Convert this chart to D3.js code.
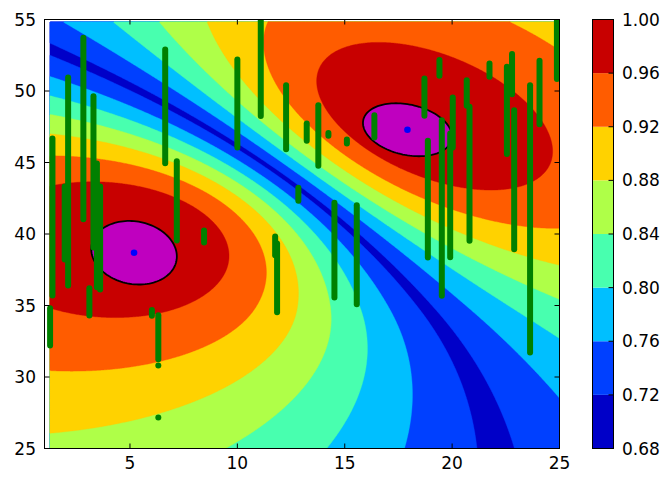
<!DOCTYPE html>
<html>
<head>
<meta charset="utf-8">
<script src="https://cdn.jsdelivr.net/npm/d3@7"></script>
<style>
body { margin: 0; background: #fff; }
text { font-family: "DejaVu Sans", sans-serif; font-size: 17px; fill: #000; }
</style>
</head>
<body>
<svg id="chart" width="667" height="480"></svg>
<script>
// contour levels, also the colorbar ticks
const levels = [0.68, 0.72, 0.76, 0.80, 0.84, 0.88, 0.92, 0.96, 1.00];
const levelLabels = ["0.68", "0.72", "0.76", "0.80", "0.84", "0.88", "0.92", "0.96", "1.00"];
const xTicks = [5, 10, 15, 20, 25];
const yTicks = [25, 30, 35, 40, 45, 50, 55];

// the two fitted components (blue dots + 1 sigma ellipses)
const compMeans = [[5.19, 38.69], [17.92, 47.29]];
const compCovs = [
    [[3.97, -0.518], [-0.518, 4.94]],
    [[4.29, -0.977], [-0.977, 3.43]]
];

const fieldCenters = [[5.19, 39.7], [18.4, 47.7]];
const fieldPrecisions = [
    [[0.714, 0.10], [0.10, 1.05]],
    [[0.77, 0.37], [0.37, 0.89]]
];
// extra fall-off below each peak (start distance, weight)
const fieldTailStart = [5, Infinity];
const fieldTailWeight = [0.3, 0];
const fieldFloor = 0.42;
const fieldX = [1.27, 25];
const fieldY = [25, 54.84];

// measurements with vertical errors
const obsX = [1.39, 1.28, 1.96, 2.12, 2.83, 3.30, 3.46, 3.61, 3.11, 6.64,
    7.18, 8.45, 10.00, 6.02, 6.32, 6.32, 6.32, 11.09, 12.27, 13.23,
    13.77, 14.24, 15.10, 12.84, 11.76, 11.85, 14.52, 15.56, 16.38, 18.71,
    18.87, 19.41, 19.52, 19.91, 20.03, 20.68, 20.81, 21.74, 22.55, 22.79,
    22.89, 23.63, 24.07, 24.88];
const obsY = [41.19, 33.50, 40.77, 43.67, 47.38, 44.35, 40.60, 39.72, 35.25, 48.93,
    42.32, 39.83, 49.13, 34.48, 32.78, 30.80, 27.17, 52.13, 48.17, 47.12,
    46.89, 46.97, 46.47, 42.78, 39.17, 36.93, 38.87, 38.55, 47.53, 49.57,
    42.44, 51.61, 41.82, 42.70, 47.80, 49.86, 44.21, 51.46, 48.64, 51.18,
    43.80, 41.06, 49.90, 53.67];
const obsErr = [5.49, 1.30, 2.55, 7.27, 6.35, 5.29, 4.33, 3.60, 0.95, 3.98,
    2.77, 0.42, 3.08, 0.20, 1.54, 0, 0, 3.87, 2.24, 0.60,
    2.12, 0.10, 0.14, 0.46, 0.66, 2.41, 3.31, 3.46, 0.78, 1.30,
    4.08, 0.55, 6.14, 4.33, 1.75, 0.89, 4.69, 0.46, 3.05, 1.40,
    4.86, 9.35, 2.22, 2.83];

const svg = d3.select('#chart');
const plot = {left: 44.5, right: 559.5, top: 19.5, bottom: 448.5};

const x = d3.scaleLinear().domain([1.02, 25]).range([plot.left, plot.right]);
const y = d3.scaleLinear().domain([25, 55]).range([plot.bottom, plot.top]);

// jet colormap
const jetR = d3.scaleLinear().domain([0, 0.35, 0.66, 0.89, 1]).range([0, 0, 1, 1, 0.5]);
const jetG = d3.scaleLinear().domain([0, 0.125, 0.375, 0.64, 0.91, 1]).range([0, 0, 1, 1, 0, 0]);
const jetB = d3.scaleLinear().domain([0, 0.11, 0.34, 0.65, 1]).range([0.5, 1, 1, 0, 0]);
const jet = t => d3.rgb(jetR(t) * 255, jetG(t) * 255, jetB(t) * 255).formatHex();
const nBands = levels.length - 1;
const bandColor = i => jet((i + 0.5) / nBands);

function field(px, py) {
    let inv = fieldCenters.map((c, k) => {
        let dx = px - c[0], dy = py - c[1], P = fieldPrecisions[k];
        let q = P[0][0] * dx * dx + 2 * P[0][1] * dx * dy + P[1][1] * dy * dy;
        let below = Math.max(0, -dy - fieldTailStart[k]);
        q += fieldTailWeight[k] * below * below;
        return 1 / Math.max(q, 1e-9);
    });
    return fieldFloor + (1 - fieldFloor) * d3.max(inv) / d3.sum(inv);
}

// grid for the filled contours
const nx = 480, ny = 400;
const values = new Float64Array(nx * ny);
for (let j = 0; j < ny; j++) {
    for (let i = 0; i < nx; i++) {
        let gx = fieldX[0] + (i + 0.5) / nx * (fieldX[1] - fieldX[0]);
        let gy = fieldY[1] - (j + 0.5) / ny * (fieldY[1] - fieldY[0]);
        values[j * nx + i] = field(gx, gy);
    }
}

const contours = d3.contours().size([nx, ny]).thresholds(levels.slice(0, -1))(values);

const gridProj = d3.geoTransform({
    point: function(gx, gy) {
        this.stream.point(
            x(fieldX[0] + gx / nx * (fieldX[1] - fieldX[0])),
            y(fieldY[1] - gy / ny * (fieldY[1] - fieldY[0])));
    }
});
const path = d3.geoPath(gridProj);

svg.append('defs').append('clipPath').attr('id', 'clip')
    .append('rect')
    .attr('x', plot.left).attr('y', plot.top)
    .attr('width', plot.right - plot.left).attr('height', plot.bottom - plot.top);

const g = svg.append('g').attr('clip-path', 'url(#clip)');

g.append('g').selectAll('path')
    .data(contours)
    .enter()
    .append('path')
    .attr('d', path)
    .attr('fill', (d, i) => bandColor(i))
    .attr('stroke', (d, i) => bandColor(i))
    .attr('stroke-width', 0.4);

// component ellipses
function ellipsePoints(m, S) {
    let a = Math.sqrt(S[0][0]);
    let b = S[0][1] / a;
    let c = Math.sqrt(S[1][1] - b * b);
    return d3.range(0, 360, 3).map(function(deg) {
        let t = deg * Math.PI / 180;
        return [m[0] + a * Math.cos(t), m[1] + b * Math.cos(t) + c * Math.sin(t)];
    });
}

const ellipseLine = d3.line()
    .x(d => x(d[0]))
    .y(d => y(d[1]))
    .curve(d3.curveLinearClosed);

g.selectAll('.ellipse')
    .data(compMeans.map((m, k) => ellipsePoints(m, compCovs[k])))
    .enter()
    .append('path')
    .attr('class', 'ellipse')
    .attr('d', ellipseLine)
    .attr('fill', '#bf00bf')
    .attr('stroke', '#000')
    .attr('stroke-width', 1.8);

g.selectAll('.mean')
    .data(compMeans)
    .enter()
    .append('circle')
    .attr('class', 'mean')
    .attr('cx', d => x(d[0]))
    .attr('cy', d => y(d[1]))
    .attr('r', 3.3)
    .attr('fill', '#0000ff');

// error bars
const obs = obsX.map((v, i) => ({x: v, y: obsY[i], err: obsErr[i]}));

g.selectAll('.bar')
    .data(obs.filter(d => d.err > 0))
    .enter()
    .append('line')
    .attr('class', 'bar')
    .attr('x1', d => x(d.x)).attr('x2', d => x(d.x))
    .attr('y1', d => y(d.y - d.err)).attr('y2', d => y(d.y + d.err))
    .attr('stroke', '#008000')
    .attr('stroke-width', 6)
    .attr('stroke-linecap', 'round');

g.selectAll('.dot')
    .data(obs.filter(d => d.err === 0))
    .enter()
    .append('circle')
    .attr('class', 'dot')
    .attr('cx', d => x(d.x)).attr('cy', d => y(d.y))
    .attr('r', 3)
    .attr('fill', '#008000');

// frame and inward ticks
svg.append('rect')
    .attr('x', plot.left).attr('y', plot.top)
    .attr('width', plot.right - plot.left).attr('height', plot.bottom - plot.top)
    .attr('fill', 'none').attr('stroke', '#000').attr('stroke-width', 1);

const ticks = svg.append('g').attr('stroke', '#000').attr('stroke-width', 1);
xTicks.forEach(function(t) {
    ticks.append('line').attr('x1', x(t)).attr('x2', x(t)).attr('y1', plot.bottom).attr('y2', plot.bottom - 5);
    ticks.append('line').attr('x1', x(t)).attr('x2', x(t)).attr('y1', plot.top).attr('y2', plot.top + 5);
});
yTicks.forEach(function(t) {
    ticks.append('line').attr('x1', plot.left).attr('x2', plot.left + 5).attr('y1', y(t)).attr('y2', y(t));
    ticks.append('line').attr('x1', plot.right).attr('x2', plot.right - 5).attr('y1', y(t)).attr('y2', y(t));
});

svg.append('g').selectAll('text')
    .data(xTicks)
    .enter()
    .append('text')
    .attr('x', d => x(d))
    .attr('y', 469)
    .attr('text-anchor', 'middle')
    .text(d => d);

svg.append('g').selectAll('text')
    .data(yTicks)
    .enter()
    .append('text')
    .attr('x', 36)
    .attr('y', d => y(d) + 6)
    .attr('text-anchor', 'end')
    .text(d => d);

// colorbar
const cbar = {left: 592.5, width: 21};
const cy = d3.scaleLinear().domain([levels[0], levels[nBands]]).range([448.5, 19.5]);

svg.append('g').selectAll('rect')
    .data(d3.range(nBands))
    .enter()
    .append('rect')
    .attr('x', cbar.left)
    .attr('y', i => cy(levels[i + 1]))
    .attr('width', cbar.width)
    .attr('height', i => cy(levels[i]) - cy(levels[i + 1]))
    .attr('fill', i => bandColor(i));

svg.append('g').selectAll('line')
    .data(levels.slice(1, -1))
    .enter()
    .append('line')
    .attr('x1', cbar.left + cbar.width).attr('x2', cbar.left + cbar.width - 5)
    .attr('y1', d => cy(d)).attr('y2', d => cy(d))
    .attr('stroke', '#000').attr('stroke-width', 1);

svg.append('rect')
    .attr('x', cbar.left).attr('y', cy(levels[nBands]))
    .attr('width', cbar.width).attr('height', cy(levels[0]) - cy(levels[nBands]))
    .attr('fill', 'none').attr('stroke', '#000').attr('stroke-width', 1);

svg.append('g').selectAll('text')
    .data(levels)
    .enter()
    .append('text')
    .attr('x', 622)
    .attr('y', d => cy(d) + 6)
    .text((d, i) => levelLabels[i]);
</script>
</body>
</html>
